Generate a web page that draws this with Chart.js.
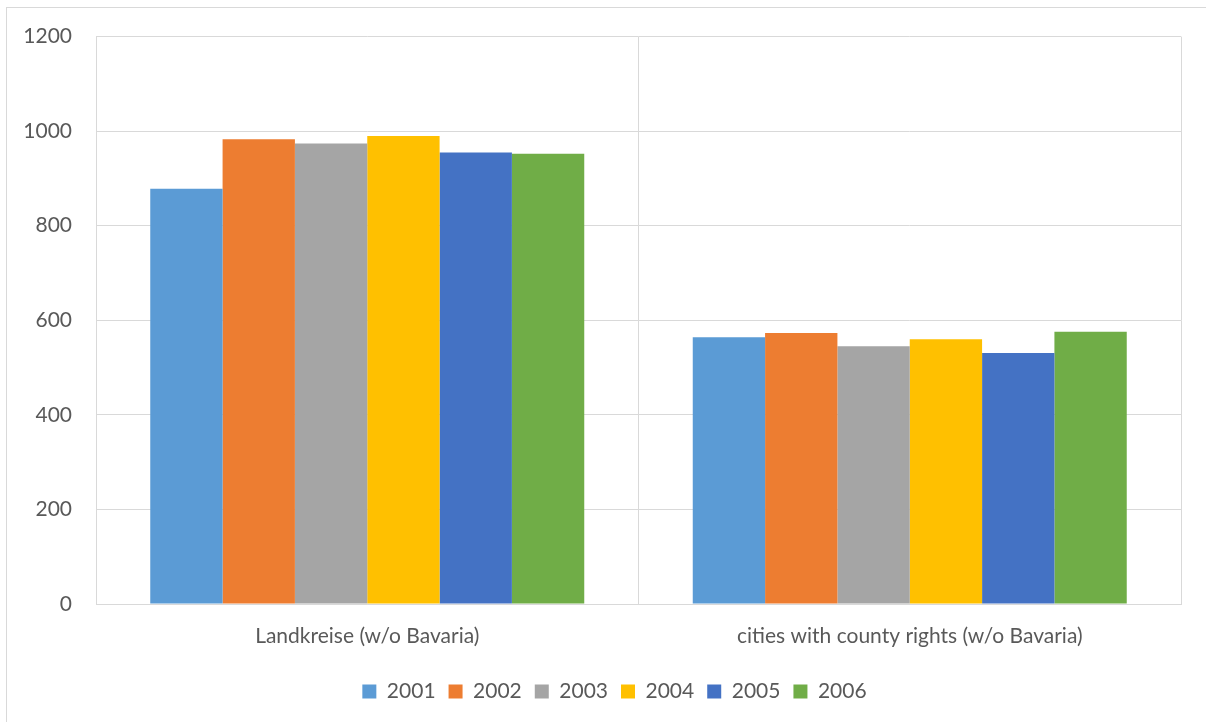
<!DOCTYPE html>
<html>
<head>
<meta charset="utf-8">
<script src="https://cdn.jsdelivr.net/npm/chart.js@4/dist/chart.umd.min.js"></script>
<style>
  html, body { margin: 0; padding: 0; background: #fff; }
  #wrap { position: relative; width: 1206px; height: 722px; }
  #frame { position: absolute; left: 6px; top: 7px; width: 1210px; height: 730px; border: 1px solid #d9d9d9; box-sizing: border-box; }
  canvas { position: absolute; left: 0; top: 0; }
</style>
</head>
<body>
<div id="wrap">
  <div id="frame"></div>
  <canvas id="chart" width="1206" height="722"></canvas>
</div>
<script>
// categories and yearly values
const categories = ["Landkreise (w/o Bavaria)", "cities with county rights (w/o Bavaria)"];
const years = ["2001", "2002", "2003", "2004", "2005", "2006"];
const values2001 = [878, 564];
const values2002 = [983, 573];
const values2003 = [974, 545];
const values2004 = [990, 560];
const values2005 = [955, 531];
const values2006 = [952, 576];
const yTicks = [0, 200, 400, 600, 800, 1000, 1200];

const seriesValues = [values2001, values2002, values2003, values2004, values2005, values2006];
const colors = ["#5b9bd5", "#ed7d31", "#a5a5a5", "#ffc000", "#4472c4", "#70ad47"];

const textColor = "#595959";
const gridColor = "#d9d9d9";
const fontFamily = "Lato, 'Open Sans', sans-serif";

const datasets = years.map((y, i) => ({
    label: y,
    data: seriesValues[i],
    backgroundColor: colors[i],
    borderWidth: 0,
    barPercentage: 1.0,
    categoryPercentage: 0.8,
}));

// nudge the legend a bit to the right of the canvas centre
const legendNudge = {
    id: "legendNudge",
    afterLayout(chart) {
        const lg = chart.legend;
        if (!lg) return;
        lg.left += 14;
        lg.right += 14;
    },
};

new Chart(document.getElementById("chart").getContext("2d"), {
    type: "bar",
    data: { labels: categories, datasets },
    plugins: [legendNudge],
    options: {
        responsive: false,
        animation: false,
        layout: { padding: { left: 20, right: 25, top: 27, bottom: 10 } },
        plugins: {
            tooltip: { enabled: false },
            legend: {
                position: "bottom",
                labels: {
                    color: textColor,
                    font: { family: fontFamily, size: 21 },
                    boxWidth: 14,
                    boxHeight: 14,
                    padding: 13,
                },
            },
        },
        scales: {
            x: {
                grid: { color: gridColor, lineWidth: 1, drawTicks: false },
                border: { color: gridColor },
                ticks: { color: textColor, font: { family: fontFamily, size: 21 }, padding: 20 },
                afterFit(scale) { scale.height = 64; },
            },
            y: {
                min: 0,
                max: 1200,
                afterBuildTicks(scale) { scale.ticks = yTicks.map(v => ({ value: v })); },
                grid: { color: gridColor, lineWidth: 1, drawTicks: false },
                border: { display: false },
                ticks: {
                    color: textColor,
                    font: { family: fontFamily, size: 21 },
                    padding: 24,
                    callback: v => String(v),
                },
                afterFit(scale) { scale.width = 76; },
            },
        },
    },
});
</script>
</body>
</html>
